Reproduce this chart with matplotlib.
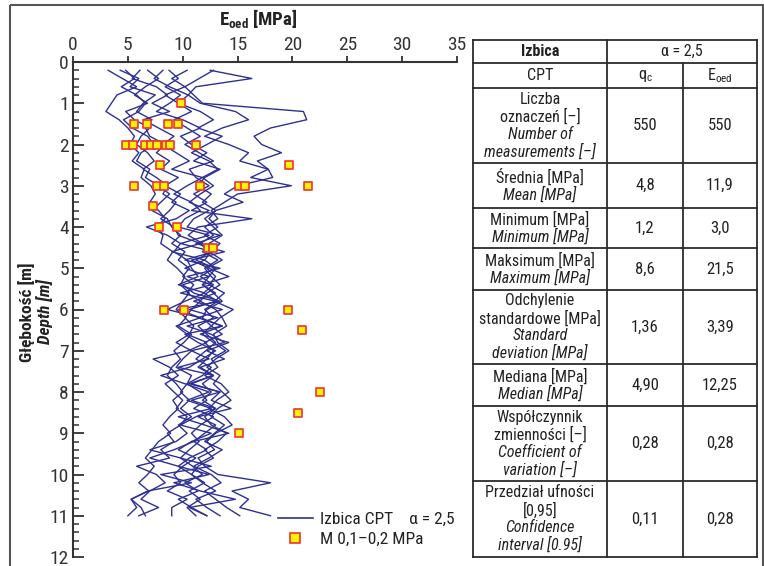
import numpy as np
import matplotlib
matplotlib.use("Agg")
import matplotlib.pyplot as plt
from matplotlib.lines import Line2D

plt.rcParams['font.family'] = ['Roboto Condensed', 'Archivo Narrow', 'DejaVu Sans']
plt.rcParams['mathtext.default'] = 'regular'
plt.rcParams['mathtext.fontset'] = 'custom'
plt.rcParams['mathtext.rm'] = 'Roboto Condensed'
plt.rcParams['mathtext.bf'] = 'Roboto Condensed:bold'

# depth of CPT readings [m]
depth = [0.2, 0.4, 0.6, 0.8, 1.0, 1.2, 1.4, 1.6, 1.8, 2.0,
         2.2, 2.4, 2.6, 2.8, 3.0, 3.2, 3.4, 3.6, 3.8, 4.0,
         4.2, 4.4, 4.6, 4.8, 5.0, 5.2, 5.4, 5.6, 5.8, 6.0,
         6.2, 6.4, 6.6, 6.8, 7.0, 7.2, 7.4, 7.6, 7.8, 8.0,
         8.2, 8.4, 8.6, 8.8, 9.0, 9.2, 9.4, 9.6, 9.8, 10.0,
         10.2, 10.4, 10.6, 10.8, 11.0]

# Eoed profiles [MPa], 10 soundings
cpt1 = [3.2, 4.5, 5.8, 4.0, 3.5, 3.0, 4.2, 5.0, 5.6, 5.2, 6.0, 5.4, 6.5, 6.2, 7.1,
        7.5, 7.0, 7.8, 8.4, 7.6, 8.2, 8.0, 9.1, 8.6, 9.5, 10.2, 9.8, 10.6, 10.0, 9.4,
        10.3, 9.6, 10.8, 10.1, 9.2, 9.8, 9.0, 8.6, 9.4, 10.0, 9.1, 9.6, 8.8, 8.2, 8.9,
        7.8, 7.2, 6.6, 7.4, 6.8, 6.0, 6.9, 5.3, 5.8, 5.0]
cpt2 = [12.8, 11.5, 10.2, 11.0, 11.8, 21.0, 21.3, 18.0, 16.5, 17.2, 19.0, 16.8, 17.8, 16.2, 19.9,
        15.0, 13.8, 12.6, 13.2, 12.0, 12.8, 11.6, 12.4, 13.6, 12.2, 13.0, 12.4, 13.8, 12.9, 14.6,
        13.4, 12.6, 11.8, 12.8, 13.9, 12.6, 13.2, 12.0, 13.5, 14.2, 13.1, 12.4, 13.8, 14.5, 13.0,
        12.2, 12.9, 11.4, 12.0, 13.2, 18.0, 14.5, 16.0, 15.2, 18.0]
cpt3 = [12.5, 16.3, 11.2, 10.5, 9.6, 10.8, 9.2, 10.4, 11.6, 10.2, 11.5, 12.8, 10.6, 11.2, 12.4,
        11.0, 12.2, 10.8, 16.3, 11.4, 10.5, 11.8, 12.6, 11.2, 12.9, 11.6, 12.8, 11.9, 13.2, 12.0,
        12.8, 11.4, 12.2, 13.0, 12.1, 11.2, 12.6, 11.8, 10.4, 11.6, 12.2, 11.0, 12.8, 11.6, 10.8,
        11.5, 10.6, 9.8, 10.9, 11.8, 10.2, 11.4, 9.6, 10.8, 12.2]
cpt4 = [8.2, 7.4, 8.8, 10.5, 11.6, 14.8, 16.0, 13.6, 12.0, 14.2, 16.0, 15.2, 17.8, 18.2, 15.0,
        13.8, 15.5, 13.0, 12.0, 12.8, 13.6, 12.4, 11.8, 13.2, 12.0, 12.6, 13.4, 12.2, 11.6, 13.0,
        13.6, 14.0, 12.8, 13.2, 14.2, 13.0, 12.2, 13.4, 12.8, 13.6, 14.4, 13.2, 12.6, 13.8, 12.9,
        12.0, 13.6, 12.4, 11.0, 12.6, 13.5, 12.0, 13.0, 14.0, 15.2]
cpt5 = [4.3, 6.0, 5.2, 7.5, 6.4, 5.8, 7.2, 6.6, 7.0, 8.4, 7.6, 8.8, 8.0, 9.6, 8.4,
        9.8, 9.0, 10.6, 9.4, 6.7, 8.6, 9.8, 9.2, 10.4, 10.8, 11.4, 9.6, 12.0, 10.2, 8.6,
        11.6, 9.4, 10.4, 12.2, 10.5, 7.3, 8.8, 9.6, 8.4, 9.2, 10.0, 9.4, 10.4, 9.8, 8.6,
        9.2, 8.0, 8.8, 5.8, 7.6, 8.4, 7.0, 6.2, 7.8, 6.0]
cpt6 = [6.1, 5.4, 7.6, 8.6, 7.2, 8.8, 6.4, 7.8, 9.2, 8.2, 9.4, 10.6, 9.0, 11.8, 10.4,
        9.2, 10.8, 11.6, 10.2, 9.6, 12.4, 9.8, 12.8, 10.2, 13.4, 10.4, 12.6, 9.8, 13.0, 10.6,
        13.2, 10.4, 12.6, 13.8, 10.8, 12.4, 9.6, 12.8, 10.6, 13.4, 10.8, 13.0, 11.2, 9.8, 12.6,
        10.8, 9.6, 11.2, 10.0, 9.2, 9.8, 8.6, 10.4, 9.0, 9.0]
cpt7 = [8.75, 9.6, 8.4, 9.8, 8.8, 7.6, 10.0, 11.6, 9.8, 10.8, 12.2, 11.0, 13.4, 12.0, 11.4,
        12.6, 11.8, 13.0, 12.4, 13.2, 12.0, 13.4, 12.6, 12.0, 13.0, 12.4, 11.8, 12.8, 13.6, 12.2,
        11.8, 12.6, 13.6, 12.0, 12.8, 12.2, 11.4, 12.8, 11.8, 12.6, 11.8, 13.0, 12.0, 12.6, 14.0,
        13.2, 12.0, 12.8, 11.4, 10.8, 11.8, 13.0, 11.2, 12.2, 13.4]
cpt8 = [6.8, 7.8, 6.6, 5.6, 6.8, 4.8, 5.6, 7.0, 6.2, 5.8, 6.8, 7.4, 6.4, 7.6, 8.6,
        8.2, 9.4, 8.8, 8.0, 9.2, 9.6, 11.6, 9.0, 12.0, 10.2, 12.4, 10.0, 11.0, 13.4, 9.6,
        11.6, 13.6, 10.2, 11.4, 13.0, 11.8, 10.6, 8.0, 10.2, 12.4, 10.4, 12.6, 9.6, 12.0, 14.2,
        11.0, 9.2, 7.0, 9.6, 12.4, 9.2, 11.6, 14.8, 10.6, 12.2]
cpt9 = [10.4, 9.0, 10.2, 8.4, 9.6, 11.6, 12.8, 11.4, 13.6, 12.2, 10.8, 12.4, 13.2, 11.8, 12.8,
        11.6, 10.6, 12.4, 11.0, 10.4, 13.4, 11.2, 13.8, 10.8, 12.4, 14.2, 11.8, 13.0, 11.0, 13.6,
        11.4, 13.6, 11.6, 14.2, 12.2, 13.8, 11.6, 12.8, 10.8, 13.4, 12.6, 14.4, 11.4, 13.0, 12.0,
        11.0, 12.2, 10.6, 9.6, 10.8, 12.0, 10.6, 11.6, 10.4, 11.2]
cpt10 = [4.8, 5.6, 4.4, 5.8, 6.6, 6.0, 4.6, 5.4, 6.8, 7.4, 6.2, 5.8, 7.0, 6.6, 7.8,
         8.8, 8.0, 7.2, 8.6, 9.0, 9.8, 9.0, 10.2, 9.6, 10.6, 10.0, 11.0, 10.4, 11.6, 10.8,
         10.2, 11.0, 10.6, 9.4, 10.8, 10.0, 9.4, 10.8, 10.4, 9.8, 10.6, 9.8, 10.8, 9.6, 10.4,
         9.4, 7.0, 9.8, 12.6, 8.0, 10.8, 6.8, 5.3, 6.2, 6.6]
profiles = [cpt1, cpt2, cpt3, cpt4, cpt5, cpt6, cpt7, cpt8, cpt9, cpt10]

# oedometer tests M 0.1-0.2 MPa
lab_E = [9.8, 5.6, 6.7, 8.7, 9.6, 4.8, 5.5, 6.6, 7.1, 7.7, 8.5, 8.8, 11.2,
         7.9, 19.7, 5.6, 7.7, 8.3, 11.6, 15.1, 15.7, 21.4, 7.3, 7.8, 9.5,
         12.3, 12.8, 8.3, 10.1, 19.6, 20.9, 22.5, 20.5, 15.1]
lab_z = [1.0, 1.5, 1.5, 1.5, 1.5, 2.0, 2.0, 2.0, 2.0, 2.0, 2.0, 2.0, 2.0,
         2.5, 2.5, 3.0, 3.0, 3.0, 3.0, 3.0, 3.0, 3.0, 3.5, 4.0, 4.0,
         4.5, 4.5, 6.0, 6.0, 6.0, 6.5, 8.0, 8.5, 9.0]

# table
head_site = "Izbica"
head_alpha = "α = 2,5"
head_cols = ["CPT", "q$_{c}$", "E$_{oed}$"]
rows_pl = ["Liczba\noznaczeń [–]", "Średnia [MPa]", "Minimum [MPa]", "Maksimum [MPa]",
           "Odchylenie\nstandardowe [MPa]", "Mediana [MPa]", "Współczynnik\nzmienności [–]",
           "Przedział ufności\n[0,95]"]
rows_en = ["Number of\nmeasurements [–]", "Mean [MPa]", "Minimum [MPa]", "Maximum [MPa]",
           "Standard\ndeviation [MPa]", "Median [MPa]", "Coefficient of\nvariation [–]",
           "Confidence\ninterval [0.95]"]
qc_vals = ["550", "4,8", "1,2", "8,6", "1,36", "4,90", "0,28", "0,11"]
eoed_vals = ["550", "11,9", "3,0", "21,5", "3,39", "12,25", "0,28", "0,28"]

W, H = 764, 566
fig = plt.figure(figsize=(W / 100, H / 100), dpi=100)

# overlay in pixel coords for frame and table
ov = fig.add_axes([0, 0, 1, 1], zorder=0)
ov.set_xlim(0, W)
ov.set_ylim(H, 0)
ov.axis('off')
ov.add_patch(plt.Rectangle((10, 5), 753, 580, fill=False, ec='#555555', lw=1.5))

ink = '#2b2b2b'
tc = '#222222'
tx0, tx1, tx2, tx3 = 473, 607, 683, 757
row_lines = [40, 63, 88, 163, 208, 248, 290, 364, 406, 481, 557]
for yl in row_lines:
    ov.plot([tx0, tx3], [yl, yl], color=ink, lw=1.3)
ov.plot([tx0, tx0], [40, 557], color=ink, lw=1.3)
ov.plot([tx3, tx3], [40, 557], color=ink, lw=1.3)
ov.plot([tx1, tx1], [40, 557], color=ink, lw=1.3)
ov.plot([tx2, tx2], [63, 557], color=ink, lw=1.3)

fs = 11.5
ov.text((tx0 + tx1) / 2, 51.5, head_site, ha='center', va='center', fontsize=fs, fontweight='bold', color=tc)
ov.text((tx1 + tx3) / 2, 51.5, head_alpha, ha='center', va='center', fontsize=fs, color=tc)
for cx, lab in zip([(tx0 + tx1) / 2, (tx1 + tx2) / 2, (tx2 + tx3) / 2], head_cols):
    ov.text(cx, 75.5, lab, ha='center', va='center', fontsize=fs, color=tc)

lh = 17.4
for i in range(len(rows_pl)):
    top, bot = row_lines[i + 2], row_lines[i + 3]
    mid = (top + bot) / 2
    lines = [(s, 'normal') for s in rows_pl[i].split('\n')] + [(s, 'italic') for s in rows_en[i].split('\n')]
    y0 = mid - (len(lines) - 1) * lh / 2
    for k, (s, st) in enumerate(lines):
        ov.text((tx0 + tx1) / 2, y0 + k * lh, s, ha='center', va='center', fontsize=fs, style=st, color=tc)
    ov.text((tx1 + tx2) / 2, mid, qc_vals[i], ha='center', va='center', fontsize=fs + 0.5, color=tc)
    ov.text((tx2 + tx3) / 2, mid, eoed_vals[i], ha='center', va='center', fontsize=fs + 0.5, color=tc)

# main plot
ax = fig.add_axes([73 / W, 1 - 557 / H, (457 - 73) / W, (557 - 62) / H], zorder=1)
ax.patch.set_alpha(0)
navy = '#2e3192'
for p in profiles:
    ax.plot(p, depth, color=navy, lw=1.0)
ax.scatter(lab_E, lab_z, marker='s', s=38, facecolor='#fff200', edgecolor='#ee3333', lw=1.2, zorder=3)

ax.set_xlim(0, 35)
ax.set_ylim(12, 0)
ax.xaxis.tick_top()
ax.xaxis.set_label_position('top')
ax.set_xticks([0, 5, 10, 15, 20, 25, 30, 35])
ax.set_yticks(range(13))
ax.set_yticks(np.arange(0, 12.01, 0.2), minor=True)
for s in ['right', 'bottom']:
    ax.spines[s].set_visible(False)
for s in ['top', 'left']:
    ax.spines[s].set_color('#333')
    ax.spines[s].set_linewidth(1.5)
ax.tick_params(axis='x', which='major', direction='out', length=4, width=1.3, labelsize=14, pad=2, colors='#333')
ax.tick_params(axis='y', which='major', direction='in', length=8, width=1.3, labelsize=14, pad=3, colors='#333')
ax.tick_params(axis='y', which='minor', direction='in', length=4.5, width=1.1, colors='#333')

fig.text(258 / W, 1 - 18 / H, r"E$_{\mathbf{oed}}$ [MPa]", ha='center', va='center', fontsize=13.5, fontweight='bold', color=tc)
fig.text(27 / W, 1 - 312 / H, "Głębokość [m]", ha='center', va='center', rotation=90, fontsize=12.5, fontweight='bold', color=tc)
fig.text(45 / W, 1 - 312 / H, "Depth [m]", ha='center', va='center', rotation=90, fontsize=12.5, fontweight='bold', style='italic', color=tc)

handles = [Line2D([], [], color=navy, lw=1.2),
           Line2D([], [], marker='s', ls='', ms=6.5, mfc='#fff200', mec='#ee3333', mew=1.2)]
ax.legend(handles, ["Izbica CPT    α = 2,5", "M 0,1–0,2 MPa"], loc='lower right',
          bbox_to_anchor=(1.02, 0.0), frameon=False, fontsize=12.5, handlelength=2.0,
          handletextpad=0.4, labelspacing=0.25, borderaxespad=0.2, labelcolor=tc)

fig.savefig("out.png", dpi=100)
